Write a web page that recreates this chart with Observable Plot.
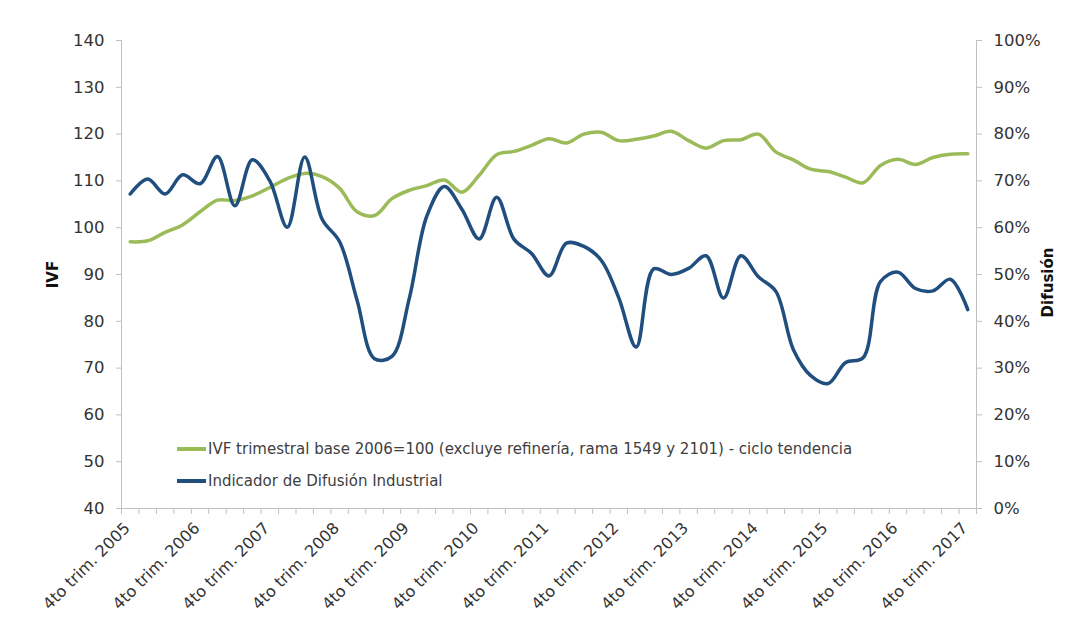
<!DOCTYPE html>
<html>
<head>
<meta charset="utf-8">
<script src="https://cdn.jsdelivr.net/npm/d3@7"></script>
<script src="https://cdn.jsdelivr.net/npm/@observablehq/plot@0.6"></script>
<style>
  body { margin: 0; background: #fff; }
  #wrap { position: relative; width: 1067px; height: 635px; }
  .legend { position: absolute; left: 177px; font-family: "DejaVu Sans", sans-serif; font-size: 15px; color: #404040; white-space: nowrap; }
  .legend div { height: 32px; display: flex; align-items: center; }
  .legend .sw { display: inline-block; width: 29px; height: 4px; margin-right: 2px; }
</style>
</head>
<body>
<div id="wrap"></div>
<script>
// Quarters: 4to trim. 2005 ... 4to trim. 2017 (49 quarters)
const quarterNames = ["1er trim.", "2do trim.", "3er trim.", "4to trim."];
const startYear = 2005, endYear = 2017;
const quarters = [];
for (let y = startYear; y <= endYear; y++) {
  for (let q = 0; q < 4; q++) {
    if (y === startYear && q < 3) continue;
    quarters.push(quarterNames[q] + " " + y);
  }
}

// IVF trimestral base 2006=100 (ciclo tendencia) – left axis
const ivf = [97.0, 97.2, 99.0, 100.6, 103.4, 105.9, 105.8, 106.8, 108.6, 110.5,
             111.6, 110.9, 108.4, 103.4, 102.6, 106.2, 108.0, 109.0, 110.2, 107.6,
             111.2, 115.6, 116.3, 117.6, 119.0, 118.1, 120.0, 120.4, 118.6, 118.9,
             119.6, 120.6, 118.6, 117.0, 118.6, 118.8, 120.0, 116.2, 114.5, 112.5,
             112.0, 110.8, 109.6, 113.3, 114.6, 113.5, 115.0, 115.7, 115.8];

// Indicador de Difusión Industrial (%) – right axis
const difusion = [67.2, 70.4, 67.2, 71.3, 69.4, 75.2, 64.7, 74.5, 70.0, 60.1,
                  75.1, 61.8, 57.0, 44.5, 32.0, 32.5, 45.0, 62.5, 68.8, 64.0,
                  57.6, 66.5, 57.5, 54.5, 49.7, 56.7, 56.0, 53.0, 45.0, 34.5,
                  51.2, 50.0, 51.3, 54.0, 45.0, 54.0, 49.5, 46.4, 34.0, 28.4,
                  26.7, 31.2, 32.2, 48.5, 50.5, 47.0, 46.5, 49.0, 42.5];

const ivfTicks = [40, 50, 60, 70, 80, 90, 100, 110, 120, 130, 140];
const pctTicks = [0, 10, 20, 30, 40, 50, 60, 70, 80, 90, 100];
const labelEvery = 4;

const seriesNames = [
  "IVF trimestral base 2006=100 (excluye refinería, rama 1549 y 2101) - ciclo tendencia",
  "Indicador de Difusión Industrial"
];
const colors = ["#9BBB59", "#1F4E7F"];

// helpers
const yMin = ivfTicks[0], yMax = ivfTicks[ivfTicks.length - 1];
const pctToY = p => yMin + p * (yMax - yMin) / 100;
const n = quarters.length;
const data = quarters.map((q, i) => ({i, q, ivf: ivf[i], dif: difusion[i]}));
const xLo = -0.5, xHi = n - 0.5;

const chart = Plot.plot({
  width: 1067,
  height: 635,
  marginLeft: 121,
  marginRight: 91,
  marginTop: 40,
  marginBottom: 127,
  style: {fontFamily: "DejaVu Sans, sans-serif", fontSize: "16px", color: "#333", background: "white"},
  x: {domain: [xLo, xHi], axis: null},
  y: {domain: [yMin, yMax], axis: null},
  marks: [
    // axis lines
    Plot.ruleX([xLo], {stroke: "#c0c0c0", strokeWidth: 1}),
    Plot.ruleX([xHi], {stroke: "#c0c0c0", strokeWidth: 1}),
    Plot.ruleY([yMin], {stroke: "#c0c0c0", strokeWidth: 1}),
    // left axis
    Plot.axisY({anchor: "left", ticks: ivfTicks, tickSize: 5, tickPadding: 12, stroke: "#c0c0c0", color: "#333", label: null, fontSize: 16.5}),
    // right axis (percent)
    Plot.axisY({anchor: "right", ticks: pctTicks.map(pctToY), tickFormat: (d, k) => pctTicks[k] + "%", tickSize: 5, tickPadding: 12, stroke: "#c0c0c0", color: "#333", label: null, fontSize: 16.5}),
    // x tick marks between categories
    Plot.axisX({anchor: "bottom", ticks: d3.range(n + 1).map(k => k - 0.5), tickFormat: () => "", tickSize: 6, stroke: "#c0c0c0", label: null}),
    // x labels
    Plot.axisX({anchor: "bottom", ticks: d3.range(0, n, labelEvery), tickFormat: i => quarters[i], tickSize: 0, tickPadding: 17, dx: -3, tickRotate: -45, color: "#333", label: null, fontSize: 16}),
    // axis titles
    Plot.text(["IVF"], {frameAnchor: "left", textAnchor: "middle", rotate: -90, dx: -68, fontWeight: "bold", fontSize: 15, fill: "#111"}),
    Plot.text(["Difusión"], {frameAnchor: "right", textAnchor: "middle", rotate: -90, dx: 72, dy: 8, fontWeight: "bold", fontSize: 15, fill: "#111"}),
    // series
    Plot.line(data, {x: "i", y: "ivf", stroke: colors[0], strokeWidth: 3.5, curve: "catmull-rom"}),
    Plot.line(data, {x: "i", y: d => pctToY(d.dif), stroke: colors[1], strokeWidth: 3.5, curve: "catmull-rom"})
  ]
});

const wrap = document.getElementById("wrap");
wrap.appendChild(chart);

const legend = document.createElement("div");
legend.className = "legend";
legend.style.top = "433px";
seriesNames.forEach((name, k) => {
  const row = document.createElement("div");
  const sw = document.createElement("span");
  sw.className = "sw";
  sw.style.background = colors[k];
  row.appendChild(sw);
  row.appendChild(document.createTextNode(name));
  legend.appendChild(row);
});
wrap.appendChild(legend);
</script>
</body>
</html>
